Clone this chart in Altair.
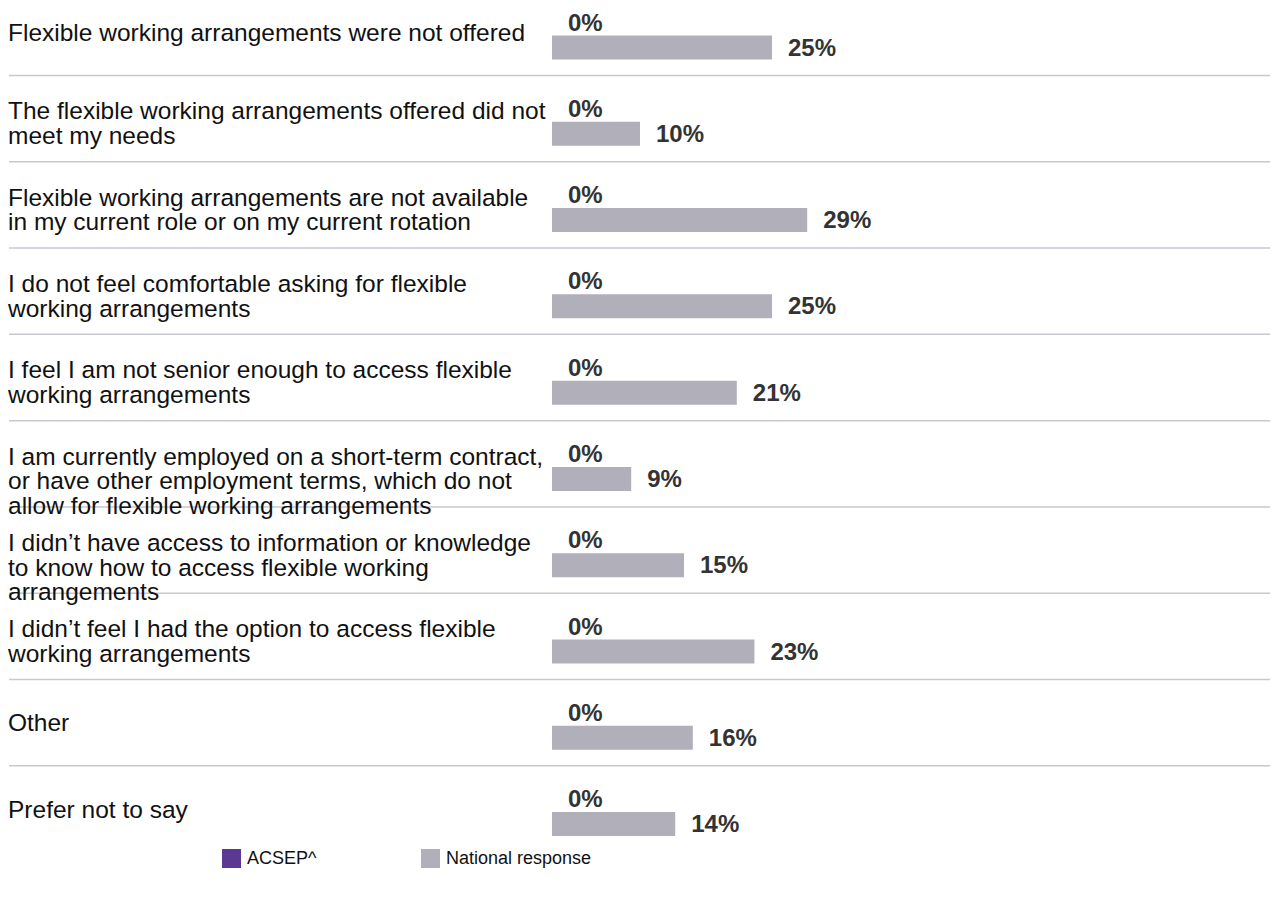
import altair as alt
import pandas as pd

categories = [
    "Flexible working arrangements were not offered",
    "The flexible working arrangements offered did not\nmeet my needs",
    "Flexible working arrangements are not available\nin my current role or on my current rotation",
    "I do not feel comfortable asking for flexible\nworking arrangements",
    "I feel I am not senior enough to access flexible\nworking arrangements",
    "I am currently employed on a short-term contract,\nor have other employment terms, which do not\nallow for flexible working arrangements",
    "I didn\u2019t have access to information or knowledge\nto know how to access flexible working\narrangements",
    "I didn\u2019t feel I had the option to access flexible\nworking arrangements",
    "Other",
    "Prefer not to say",
]
acsep = [0, 0, 0, 0, 0, 0, 0, 0, 0, 0]
national = [25, 10, 29, 25, 21, 9, 15, 23, 16, 14]
series_names = ["ACSEP^", "National response"]
series_colors = ["#5B3891", "#B0AFBA"]

STEP = 87.4
N = len(categories)
Y_RANGE = [22.5, 22.5 + (N - 1) * STEP]
X_SCALE = alt.Scale(domain=[0, 50], range=[544, 984])
Y_SCALE = alt.Scale(domain=[0, N - 1], range=Y_RANGE, zero=False, nice=False)

rows = []
for i, c in enumerate(categories):
    rows.append({"row": i, "series": series_names[0], "value": acsep[i]})
    rows.append({"row": i, "series": series_names[1], "value": national[i]})
df = pd.DataFrame(rows)
df["label"] = df["value"].astype(int).astype(str) + "%"

line_rows = []
for i, c in enumerate(categories):
    parts = c.split("\n")
    n = len(parts)
    base = -1.5 if n == 1 else -9.5
    for j, p in enumerate(parts):
        line_rows.append({"row": i, "ty": i + (base + 25 * j) / STEP, "txt": p})
lines_df = pd.DataFrame(line_rows)

sep_df = pd.DataFrame({"row": list(range(N - 1))})

color = alt.Color(
    "series:N",
    scale=alt.Scale(domain=series_names, range=series_colors),
    legend=alt.Legend(
        title=None,
        orient="none",
        legendX=214,
        legendY=841,
        direction="horizontal",
        symbolType="square",
        symbolSize=361,
        symbolStrokeWidth=0,
        labelFontSize=18,
        labelFont="Liberation Sans",
        labelColor="#111111",
        labelOffset=6,
        columnPadding=104,
    ),
)

rules = alt.Chart(sep_df).mark_rule(color="#C9C7D2", strokeWidth=1.5, yOffset=40).encode(
    y=alt.Y("row:Q", scale=Y_SCALE, axis=None),
    x=alt.value(1),
    x2=alt.value(1262),
)

cat_text = alt.Chart(lines_df).mark_text(
    align="left", baseline="middle", font="Liberation Sans", fontSize=24.5, color="#111111"
).encode(
    y=alt.Y("ty:Q", scale=Y_SCALE, axis=None),
    x=alt.value(0),
    text="txt:N",
)

df_a = df[df["series"] == series_names[0]]
df_n = df[df["series"] == series_names[1]]

def bar_layer(d, off):
    return alt.Chart(d).mark_bar(orient="horizontal", size=24, yOffset=off).encode(
        y=alt.Y("row:Q", scale=Y_SCALE, axis=None),
        x=alt.X("value:Q", scale=X_SCALE, axis=None),
        x2=alt.datum(0),
        color=color,
    )

def label_layer(d, off):
    return alt.Chart(d).mark_text(
        align="left", baseline="middle", dx=16, yOffset=off,
        font="Liberation Sans", fontSize=24, fontWeight="bold", color="#333333",
    ).encode(
        y=alt.Y("row:Q", scale=Y_SCALE, axis=None),
        x=alt.X("value:Q", scale=X_SCALE, axis=None),
        text="label:N",
    )

chart = alt.layer(
    rules,
    cat_text,
    bar_layer(df_a, -12),
    bar_layer(df_n, 12),
    label_layer(df_a, -12),
    label_layer(df_n, 13),
).properties(
    width=1262,
    height=866,
    autosize=alt.AutoSizeParams(type="none"),
    padding=0,
).configure_view(strokeWidth=0)

chart.save("out.html", embed_options={"renderer": "svg", "actions": False})
